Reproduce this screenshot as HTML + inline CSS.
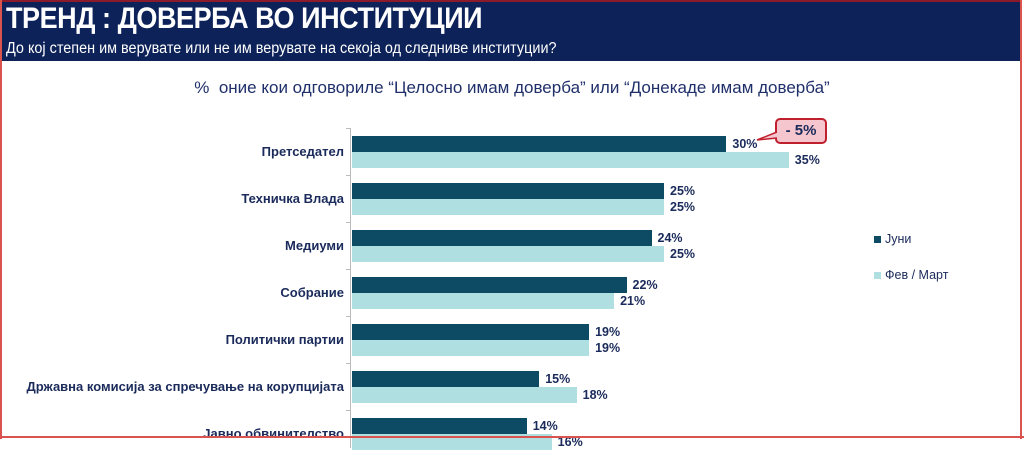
<!DOCTYPE html>
<html><head><meta charset="utf-8"><style>
body{margin:0;width:1024px;height:439px;overflow:hidden;background:#fff;font-family:"Liberation Sans",sans-serif;position:relative}
.hdr{position:absolute;left:0;top:0;width:1020px;height:61px;background:#0c2258;border-top:2px solid #8b1a2a;box-sizing:border-box}
.t1{position:absolute;left:6px;top:0px;color:#fff;font-size:30px;font-weight:bold;letter-spacing:-0.5px;transform:scaleX(0.9);transform-origin:left}
.t2{position:absolute;left:6px;top:38px;color:#fff;font-size:15.5px;transform:scaleX(0.93);transform-origin:left;white-space:nowrap}
.rl{position:absolute;top:0;width:2px;height:439px;background:#d9534f}
.sub{position:absolute;left:0;width:1024px;top:78px;text-align:center;color:#1f2f6a;font-size:17px}
.lab{position:absolute;right:680px;font-size:13px;font-weight:bold;color:#1a2a5a;white-space:nowrap}
.bar{position:absolute;left:352px;height:16px}
.d{background:#0d4a63}.l{background:#b0dfe2}
.v{position:absolute;font-size:12.5px;font-weight:bold;color:#1a2a5a}
.axis{position:absolute;left:350px;top:128px;width:1px;height:320px;background:#bbb}
.tk{position:absolute;left:346px;width:4px;height:1px;background:#bbb}
.lg{position:absolute;font-size:12.5px;color:#1a2a5a}
.lg i{display:inline-block;width:7px;height:7px;margin-right:4px}
</style></head><body>
<div class="hdr"><div class="t1">ТРЕНД : ДОВЕРБА ВО ИНСТИТУЦИИ</div><div class="t2">До кој степен им верувате или не им верувате на секоја од следниве институции?</div></div>
<div class="rl" style="left:0"></div><div class="rl" style="left:1020px"></div>
<div class="sub">%&nbsp; оние кои одговориле “Целосно имам доверба” или “Донекаде имам доверба”</div>
<div class="axis"></div>
<div id="c"></div>
<div style="position:absolute;left:775px;top:118px;width:52px;height:26px;background:#f6c6cf;border:2px solid #c0202e;border-radius:5px;box-sizing:border-box;font-size:15px;font-weight:bold;color:#1a2a5a;text-align:center;line-height:22px">- 5%</div>
<svg style="position:absolute;left:755px;top:130px" width="25" height="15"><path d="M22 2 L2 10 L22 8" fill="#f6c6cf" stroke="#c0202e" stroke-width="1.5"/></svg>
<div class="lg" style="left:874px;top:232px"><i style="background:#0d4a63"></i>Јуни</div>
<div class="lg" style="left:874px;top:268px"><i style="background:#b0dfe2"></i>Фев / Март</div>
<script>
var d=[["Претседател",30,35],["Техничка Влада",25,25],["Медиуми",24,25],["Собрание",22,21],["Политички партии",19,19],["Државна комисија за спречување на корупцијата",15,18],["Јавно обвинителство",14,16]];
var h="";d.forEach(function(r,i){var y=136+47*i;
h+='<div class="lab" style="top:'+(y+8)+'px">'+r[0]+'</div>';
h+='<div class="bar d" style="top:'+y+'px;width:'+(r[1]*12.48)+'px"></div>';
h+='<div class="bar l" style="top:'+(y+16)+'px;width:'+(r[2]*12.48)+'px"></div>';
h+='<div class="v" style="top:'+(y+1)+'px;left:'+(358+r[1]*12.48)+'px">'+r[1]+'%</div>';
h+='<div class="v" style="top:'+(y+17)+'px;left:'+(358+r[2]*12.48)+'px">'+r[2]+'%</div>';
h+='<div class="tk" style="top:'+(y-8)+'px"></div>';});
document.getElementById("c").innerHTML=h;
</script>
<div style="position:absolute;left:0;top:436px;width:1024px;height:2px;background:#d9534f"></div>
</body></html>
